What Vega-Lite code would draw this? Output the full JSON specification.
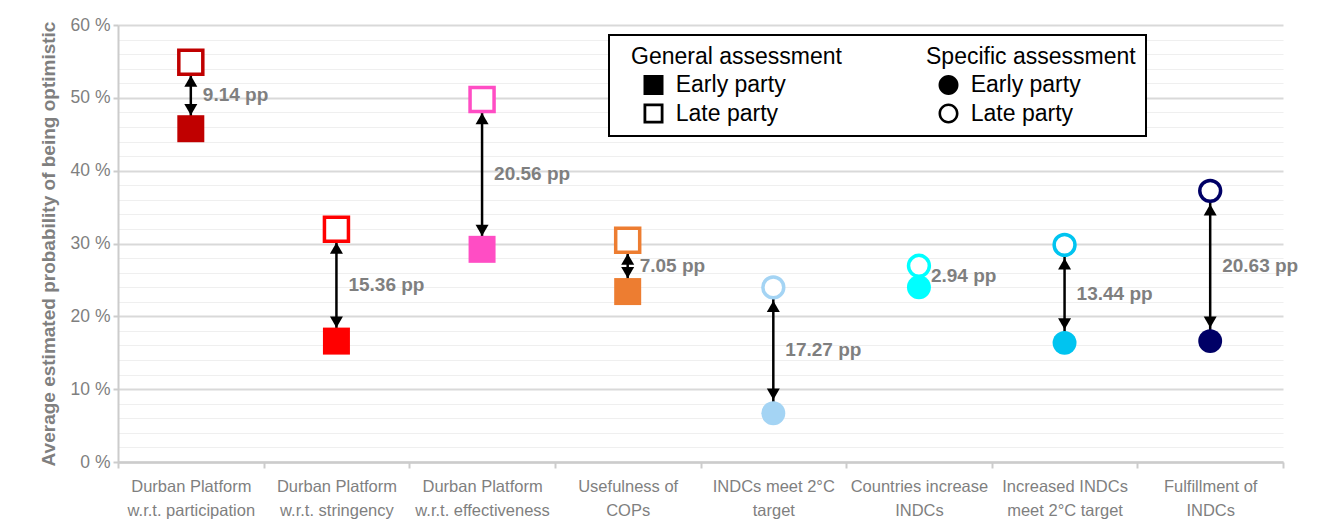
{
  "$schema": "https://vega.github.io/schema/vega-lite/v6.json",
  "width": 1165,
  "height": 437,
  "autosize": {"type": "none"},
  "padding": {"left": 118, "top": 25, "right": 36, "bottom": 69},
  "background": "white",
  "config": {
    "font": "Liberation Sans",
    "view": {"stroke": null},
    "legend": {"strokeWidth": 2},
    "axisY": {
      "values": [0, 2, 4, 6, 8, 10, 12, 14, 16, 18, 20, 22, 24, 26, 28, 30, 32, 34, 36, 38, 40, 42, 44, 46, 48, 50, 52, 54, 56, 58, 60],
      "tickCount": 30,
      "titleFontSize": 19,
      "titleColor": "#7f7f7f",
      "titleFontWeight": "bold",
      "titlePadding": 12,
      "labelExpr": "datum.value % 10 === 0 ? datum.value + ' %' : ''",
      "labelFontSize": 17.5,
      "labelColor": "#7f7f7f",
      "labelPadding": 3,
      "labelOverlap": false,
      "labelBound": false,
      "tickSize": 5,
      "tickWidth": 2,
      "tickColor": {"condition": {"test": "datum.value % 10 === 0", "value": "#cccccc"}, "value": "transparent"},
      "gridColor": {"condition": {"test": "datum.value % 10 === 0", "value": "#d9d9d9"}, "value": "#efefef"},
      "gridWidth": {"condition": {"test": "datum.value % 10 === 0", "value": 2}, "value": 1},
      "domainColor": "#cccccc",
      "domainWidth": 2
    }
  },
  "datasets": {
    "main": [
      {"cat": "Durban Platform|w.r.t. participation", "group": "General", "early": 45.76, "late": 54.9, "diff": "9.14 pp"},
      {"cat": "Durban Platform|w.r.t. stringency", "group": "General", "early": 16.6, "late": 31.96, "diff": "15.36 pp"},
      {"cat": "Durban Platform|w.r.t. effectiveness", "group": "General", "early": 29.2, "late": 49.76, "diff": "20.56 pp"},
      {"cat": "Usefulness of|COPs", "group": "General", "early": 23.4, "late": 30.45, "diff": "7.05 pp"},
      {"cat": "INDCs meet 2°C|target", "group": "Specific", "early": 6.7, "late": 23.97, "diff": "17.27 pp"},
      {"cat": "Countries increase|INDCs", "group": "Specific", "early": 24.0, "late": 26.94, "diff": "2.94 pp"},
      {"cat": "Increased INDCs|meet 2°C target", "group": "Specific", "early": 16.36, "late": 29.8, "diff": "13.44 pp"},
      {"cat": "Fulfillment of|INDCs", "group": "Specific", "early": 16.6, "late": 37.23, "diff": "20.63 pp"}
    ],
    "legend": [
      {"lk": "hG"}, {"lk": "gE"}, {"lk": "gL"}, {"lk": "hS"}, {"lk": "sE"}, {"lk": "sL"}
    ]
  },
  "data": {"name": "main"},
  "encoding": {
    "x": {
      "field": "cat",
      "type": "nominal",
      "sort": null,
      "scale": {
        "type": "band",
        "paddingInner": 0,
        "paddingOuter": 0,
        "domain": ["Durban Platform|w.r.t. participation", "Durban Platform|w.r.t. stringency", "Durban Platform|w.r.t. effectiveness", "Usefulness of|COPs", "INDCs meet 2°C|target", "Countries increase|INDCs", "Increased INDCs|meet 2°C target", "Fulfillment of|INDCs"]
      },
      "axis": {
        "title": null,
        "labelExpr": "split(datum.label, '|')",
        "labelFontSize": 16.5,
        "labelColor": "#7f7f7f",
        "labelLineHeight": 24,
        "labelPadding": 10,
        "labelAngle": 0,
        "labelLimit": 0,
        "tickBand": "extent",
        "tickSize": 6,
        "tickColor": "#cccccc",
        "tickWidth": 2,
        "domainColor": "#cccccc",
        "domainWidth": 2.5,
        "grid": false
      }
    }
  },
  "layer": [
    {
      "transform": [{"filter": "datum.late - datum.early > 5"}],
      "mark": {"type": "rule", "color": "black", "strokeWidth": 2.5},
      "encoding": {
        "y": {
          "field": "early",
          "type": "quantitative",
          "scale": {"domain": [0, 60], "nice": false},
          "axis": {"title": "Average estimated probability of being optimistic"}
        },
        "y2": {"field": "late"}
      }
    },
    {
      "transform": [{"filter": "datum.late - datum.early > 5"}],
      "mark": {"type": "point", "shape": "triangle-up", "filled": true, "color": "black", "opacity": 1, "size": 169, "yOffset": 19},
      "encoding": {"y": {"field": "late", "type": "quantitative"}}
    },
    {
      "transform": [{"filter": "datum.late - datum.early > 5"}],
      "mark": {"type": "point", "shape": "triangle-down", "filled": true, "color": "black", "opacity": 1, "size": 169, "yOffset": -19},
      "encoding": {"y": {"field": "early", "type": "quantitative"}}
    },
    {
      "mark": {"type": "point", "filled": false, "fill": "white", "opacity": 1, "strokeWidth": 3.5},
      "encoding": {
        "y": {"field": "late", "type": "quantitative"},
        "shape": {"field": "group", "type": "nominal", "scale": {"domain": ["General", "Specific"], "range": ["square", "circle"]}, "legend": null},
        "size": {"field": "group", "type": "nominal", "scale": {"domain": ["General", "Specific"], "range": [576, 434]}, "legend": null},
        "color": {
          "field": "cat",
          "type": "nominal",
          "sort": null,
          "scale": {
            "domain": ["Durban Platform|w.r.t. participation", "Durban Platform|w.r.t. stringency", "Durban Platform|w.r.t. effectiveness", "Usefulness of|COPs", "INDCs meet 2°C|target", "Countries increase|INDCs", "Increased INDCs|meet 2°C target", "Fulfillment of|INDCs"],
            "range": ["#c00000", "#ff0000", "#ff4dc4", "#ed7d31", "#a4d4f4", "#00ffff", "#00c4f0", "#000066"]
          },
          "legend": null
        }
      }
    },
    {
      "mark": {"type": "point", "filled": true, "opacity": 1},
      "encoding": {
        "y": {"field": "early", "type": "quantitative"},
        "shape": {"field": "group", "type": "nominal", "scale": {"domain": ["General", "Specific"], "range": ["square", "circle"]}, "legend": null},
        "size": {"field": "group", "type": "nominal", "scale": {"domain": ["General", "Specific"], "range": [729, 572]}, "legend": null},
        "color": {"field": "cat", "type": "nominal", "sort": null, "legend": null}
      }
    },
    {
      "transform": [
        {"fold": ["early", "late"], "as": ["k", "v"]},
        {"aggregate": [{"op": "mean", "field": "v", "as": "mid"}], "groupby": ["cat", "diff"]}
      ],
      "mark": {"type": "text", "align": "left", "baseline": "middle", "dx": 12, "fontSize": 19, "fontWeight": "bold", "color": "#7f7f7f"},
      "encoding": {
        "y": {"field": "mid", "type": "quantitative"},
        "text": {"field": "diff"}
      }
    },
    {
      "data": {"name": "legend"},
      "transform": [{"filter": "false"}],
      "mark": {"type": "point", "filled": true, "opacity": 1, "color": "black"},
      "encoding": {
        "shape": {
          "field": "lk",
          "type": "nominal",
          "scale": {
            "domain": ["hG", "gE", "gL", "hS", "sE", "sL"],
            "range": [
              "M0,0",
              "M-1,-1H1V1H-1Z",
              "M-1,-1H1V1H-1Z M-0.72,-0.72V0.72H0.72V-0.72Z",
              "M0,0",
              "M-1,0A1,1,0,1,1,1,0A1,1,0,1,1,-1,0Z",
              "M-1,0A1,1,0,1,1,1,0A1,1,0,1,1,-1,0Z M-0.74,0A0.74,0.74,0,1,0,0.74,0A0.74,0.74,0,1,0,-0.74,0Z"
            ]
          },
          "legend": {
            "title": null,
            "orient": "none",
            "direction": "vertical",
            "legendX": 491,
            "legendY": 10,
            "columns": 2,
            "columnPadding": 72,
            "rowPadding": 4.5,
            "padding": 10,
            "strokeColor": "black",
            "fillColor": "white",
            "labelFontSize": 23,
            "labelColor": "black",
            "labelLimit": 0,
            "labelOffset": -34,
            "symbolOffset": 23,
            "symbolSize": 400,
            "symbolFillColor": "black",
            "symbolStrokeWidth": 0,
            "labelExpr": "datum.value === 'hG' ? 'General assessment' : datum.value === 'hS' ? 'Specific assessment' : (datum.value === 'gE' || datum.value === 'sE') ? '\u200b\u00a0\u00a0\u00a0\u00a0\u00a0\u00a0\u00a0Early party' : '\u200b\u00a0\u00a0\u00a0\u00a0\u00a0\u00a0\u00a0Late party'"
          }
        }
      }
    }
  ],
  "resolve": {"scale": {"shape": "independent", "size": "independent"}, "legend": {"shape": "independent"}}
}
